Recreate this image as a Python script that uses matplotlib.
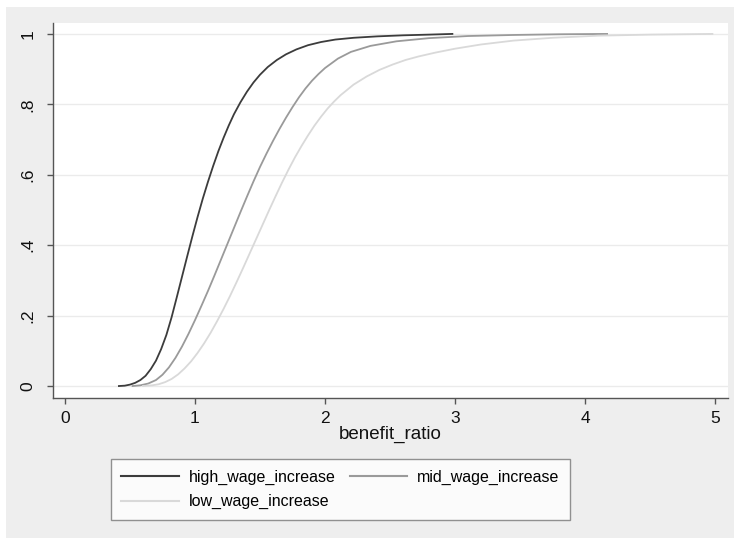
import matplotlib
matplotlib.use("Agg")
import matplotlib.pyplot as plt
from matplotlib.patches import Rectangle

plt.rcParams["font.family"] = ["Liberation Sans", "DejaVu Sans"]

# CDF curves (x = benefit_ratio, y = cumulative share)
high_x = [0.415, 0.46, 0.50, 0.54, 0.58, 0.62, 0.66, 0.70, 0.74, 0.78, 0.82, 0.86,
          0.90, 0.94, 0.98, 1.02, 1.06, 1.10, 1.14, 1.18, 1.22, 1.26, 1.30, 1.35,
          1.40, 1.45, 1.50, 1.56, 1.63, 1.70, 1.78, 1.87, 1.97, 2.08, 2.22, 2.40,
          2.60, 2.80, 2.98]
high_y = [0.0, 0.001, 0.004, 0.009, 0.017, 0.029, 0.048, 0.072, 0.105, 0.145, 0.195, 0.252,
          0.310, 0.368, 0.425, 0.480, 0.532, 0.580, 0.625, 0.667, 0.705, 0.740, 0.772, 0.806,
          0.836, 0.862, 0.884, 0.906, 0.926, 0.942, 0.956, 0.968, 0.977, 0.984, 0.989, 0.993,
          0.996, 0.998, 1.0]

mid_x = [0.52, 0.58, 0.64, 0.70, 0.75, 0.80, 0.85, 0.90, 0.95, 1.00, 1.05, 1.10,
         1.15, 1.20, 1.25, 1.30, 1.35, 1.40, 1.45, 1.50, 1.55, 1.60, 1.65, 1.70,
         1.75, 1.80, 1.85, 1.90, 1.95, 2.00, 2.10, 2.20, 2.35, 2.55, 2.80, 3.10,
         3.45, 3.80, 4.17]
mid_y = [0.0, 0.002, 0.007, 0.017, 0.032, 0.053, 0.080, 0.112, 0.148, 0.187, 0.228, 0.270,
         0.314, 0.359, 0.404, 0.449, 0.494, 0.538, 0.581, 0.622, 0.660, 0.696, 0.730, 0.762,
         0.792, 0.820, 0.845, 0.867, 0.886, 0.903, 0.930, 0.949, 0.966, 0.979, 0.988, 0.994,
         0.997, 0.999, 1.0]

low_x = [0.60, 0.67, 0.72, 0.77, 0.82, 0.87, 0.92, 0.97, 1.02, 1.07, 1.12, 1.17,
         1.22, 1.27, 1.32, 1.37, 1.42, 1.47, 1.52, 1.57, 1.62, 1.67, 1.72, 1.77,
         1.82, 1.87, 1.92, 1.97, 2.02, 2.07, 2.12, 2.22, 2.32, 2.42, 2.52, 2.62,
         2.72, 2.85, 3.00, 3.20, 3.45, 3.75, 4.10, 4.50, 4.98]
low_y = [0.0, 0.002, 0.005, 0.011, 0.020, 0.033, 0.050, 0.070, 0.094, 0.121, 0.151, 0.184,
         0.219, 0.256, 0.295, 0.335, 0.376, 0.417, 0.458, 0.499, 0.539, 0.578, 0.615, 0.650,
         0.682, 0.712, 0.740, 0.765, 0.788, 0.808, 0.826, 0.856, 0.879, 0.898, 0.913, 0.926,
         0.936, 0.947, 0.958, 0.970, 0.981, 0.989, 0.995, 0.998, 1.0]

series = [
    ("high_wage_increase", high_x, high_y, "#3c3c3c"),
    ("mid_wage_increase", mid_x, mid_y, "#9a9a9a"),
    ("low_wage_increase", low_x, low_y, "#d9d9d9"),
]

x_ticks = [0, 1, 2, 3, 4, 5]
y_ticks = [0, 0.2, 0.4, 0.6, 0.8, 1.0]
y_tick_labels = ["0", ".2", ".4", ".6", ".8", "1"]

W, H = 734, 538
fig = plt.figure(figsize=(W / 100, H / 100), dpi=100, facecolor="white")
fig.patches.append(Rectangle((6 / W, 0), 1, 1 - 7 / H, transform=fig.transFigure,
                             facecolor="#eeeeee", edgecolor="none", zorder=-10))

ax = fig.add_axes([53 / W, (H - 398) / H, (728 - 53) / W, (398 - 23) / H])
ax.set_facecolor("white")

lines = {}
for name, xs, ys, col in series:
    lines[name], = ax.plot(xs, ys, color=col, lw=1.3, label=name)

ax.set_xlim(-0.092, 5.1)
ax.set_ylim(-0.034, 1.031)
ax.set_xticks(x_ticks)
ax.set_yticks(y_ticks)
ax.set_yticklabels(y_tick_labels, rotation=90, va="center")
ax.grid(axis="y", color="#ebebeb", lw=1.0)
ax.set_axisbelow(True)

for s in ["top", "right"]:
    ax.spines[s].set_visible(False)
for s in ["left", "bottom"]:
    ax.spines[s].set_color("#555555")
    ax.spines[s].set_linewidth(1.0)
ax.tick_params(axis="both", colors="#555555", labelcolor="#111111",
               labelsize=12.5, length=4.5, width=1.0)
ax.tick_params(axis="y", pad=8)
ax.tick_params(axis="x", pad=5)

ax.set_xlabel("benefit_ratio", fontsize=13.5, color="#111111", labelpad=0)

# column-major fill -> order so rows read high, mid / low
order = ["high_wage_increase", "low_wage_increase", "mid_wage_increase"]
leg = fig.legend([lines[k] for k in order], order,
                 loc="upper left", bbox_to_anchor=(111 / W, 1 - 459 / H), ncol=2,
                 fontsize=11.5, frameon=True, fancybox=False, handlelength=3.6,
                 handletextpad=0.6, columnspacing=0.9, labelspacing=0.6,
                 borderpad=0.65, borderaxespad=0)
leg.get_frame().set_edgecolor("#777777")
leg.get_frame().set_linewidth(1.0)
for line in leg.get_lines():
    line.set_linewidth(1.5)

fig.savefig("out.png", dpi=100, facecolor=fig.get_facecolor())
